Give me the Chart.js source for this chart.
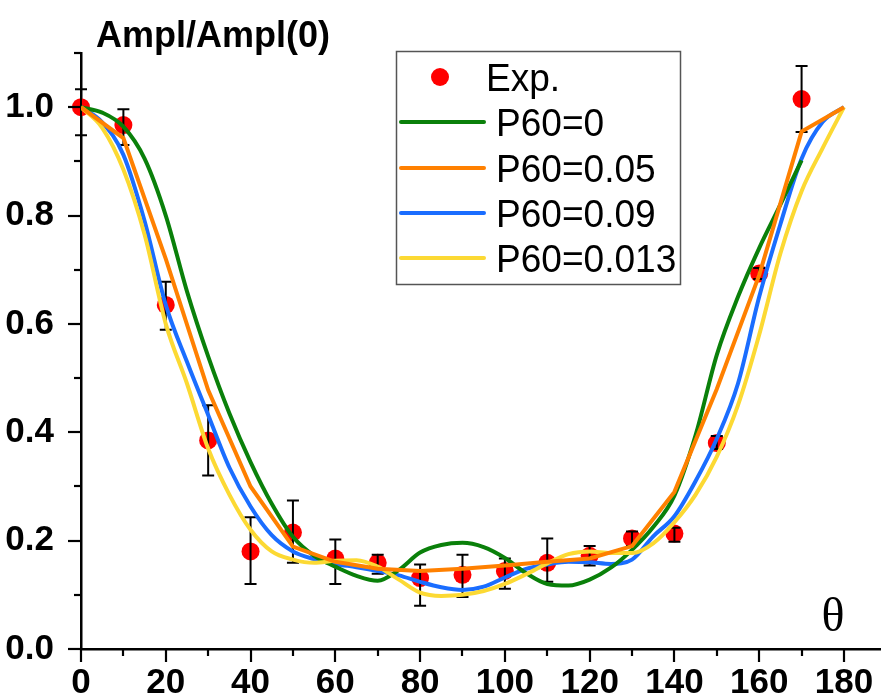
<!DOCTYPE html>
<html><head><meta charset="utf-8">
<script src="https://cdn.jsdelivr.net/npm/chart.js@4.4.1/dist/chart.umd.min.js"></script>
<style>html,body{margin:0;padding:0;background:#fff;overflow:hidden}</style>
</head><body>
<canvas id="c" width="881" height="699"></canvas>
<script>
// ---- data ----
const titleText = "Ampl/Ampl(0)";
const xAxisLabel = "θ";
const seriesLabels = ["Exp.", "P60=0", "P60=0.05", "P60=0.09", "P60=0.013"];

const expTheta   = [0,10,20,30,40,50,60,70,80,90,100,110,120,130,140,150,160,170];
const expValue   = [1.0,0.967,0.635,0.385,0.18,0.215,0.167,0.159,0.131,0.137,0.144,0.159,0.172,0.204,0.213,0.38,0.693,1.015];
const expErrLow  = [0.948,0.93,0.589,0.32,0.12,0.159,0.12,0.139,0.08,0.096,0.111,0.124,0.154,0.19,0.198,0.369,0.683,0.954];
const expErrHigh = [1.033,0.996,0.678,0.45,0.243,0.274,0.202,0.174,0.156,0.174,0.167,0.204,0.19,0.217,0.224,0.393,0.703,1.076];

const thetaFine = [0,5,10,15,20,25,30,35,40,45,50,55,60,65,70,75,80,85,90,95,100,105,110,115,120,125,130,135,140,145,150,155,160,165,170,175,180];
const thetaCoarse = [0,10,20,30,40,50,60,70,80,90,100,110,120,130,140,150,160,170,180];

const p60_0 = [1.0,0.99,0.964,0.905,0.80,0.66,0.54,0.435,0.345,0.268,0.207,0.172,0.152,0.135,0.126,0.146,0.178,0.192,0.196,0.188,0.168,0.14,0.12,0.117,0.128,0.15,0.183,0.225,0.283,0.395,0.543,0.65,0.74,0.82,0.902];
const p60_005 = [1.0,0.943,0.72,0.478,0.30,0.189,0.161,0.148,0.144,0.148,0.154,0.161,0.167,0.19,0.29,0.48,0.69,0.955,1.0];
const p60_009 = [1.0,0.972,0.912,0.79,0.635,0.53,0.432,0.335,0.263,0.21,0.18,0.166,0.157,0.151,0.144,0.136,0.124,0.114,0.109,0.115,0.132,0.148,0.156,0.161,0.16,0.157,0.165,0.208,0.245,0.31,0.388,0.49,0.65,0.784,0.905,0.973,1.0];
const p60_0013 = [1.0,0.962,0.885,0.765,0.60,0.49,0.37,0.285,0.22,0.18,0.165,0.159,0.163,0.164,0.152,0.128,0.104,0.098,0.1,0.107,0.12,0.138,0.158,0.175,0.18,0.177,0.177,0.195,0.234,0.285,0.355,0.45,0.58,0.73,0.845,0.925,1.0];

const xTickValues = [0,20,40,60,80,100,120,140,160,180];
const yTickValues = [0.0,0.2,0.4,0.6,0.8,1.0];

function pts(xs, ys){ return ys.map((v,i)=>({x:xs[i], y:v})); }

const colors = {exp:'#ff0000', g:'#0a800a', o:'#ff8000', b:'#1a6dff', y:'#fcd933'};

const decor = {
  id:'decor',
  afterDatasetDraw(chart, args){
    if (args.index !== 0) return;
    const ctx = chart.ctx, xs = chart.scales.x, ys = chart.scales.y;
    ctx.save();
    ctx.strokeStyle = '#000'; ctx.lineWidth = 2;
    expTheta.forEach((t,i)=>{
      const px = xs.getPixelForValue(t);
      const y1 = ys.getPixelForValue(expErrLow[i]), y2 = ys.getPixelForValue(expErrHigh[i]);
      ctx.beginPath();
      ctx.moveTo(px,y1); ctx.lineTo(px,y2);
      ctx.moveTo(px-6,y1); ctx.lineTo(px+6,y1);
      ctx.moveTo(px-6,y2); ctx.lineTo(px+6,y2);
      ctx.stroke();
    });
    ctx.restore();
  },
  afterDraw(chart){
    const ctx = chart.ctx, xs = chart.scales.x, ys = chart.scales.y, a = chart.chartArea;
    ctx.save();
    // tick marks
    ctx.strokeStyle = '#000'; ctx.lineWidth = 2.2;
    for (let v=0; v<=180; v+=10){
      const px = Math.round(xs.getPixelForValue(v));
      const len = (v%20===0)?13:7;
      ctx.beginPath(); ctx.moveTo(px, a.bottom); ctx.lineTo(px, a.bottom+len); ctx.stroke();
    }
    for (let k=0; k<=11; k++){
      const py = Math.round(ys.getPixelForValue(k/10));
      const len = (k%2===0)?13:7;
      ctx.beginPath(); ctx.moveTo(a.left, py); ctx.lineTo(a.left-len, py); ctx.stroke();
    }
    // title
    ctx.fillStyle = '#000';
    ctx.textBaseline = 'alphabetic'; ctx.textAlign = 'left';
    ctx.font = 'bold 36px "Liberation Sans", Arial, sans-serif';
    ctx.fillText(titleText, 96, 47);
    // theta label
    ctx.font = '48px "Liberation Serif", "Times New Roman", serif';
    ctx.textAlign = 'center';
    ctx.fillText(xAxisLabel, 833, 631);
    // legend
    ctx.fillStyle = '#fff';
    ctx.fillRect(396, 51, 285, 234);
    ctx.strokeStyle = '#555'; ctx.lineWidth = 1.5;
    ctx.strokeRect(396.5, 51.5, 284, 233);
    const rows = [77, 122, 168, 213, 258];
    chart.data.datasets.forEach((ds, i)=>{
      const cy = rows[i];
      if (i===0){
        ctx.fillStyle = ds.backgroundColor;
        ctx.beginPath(); ctx.arc(440, cy, 9, 0, Math.PI*2); ctx.fill();
      } else {
        ctx.strokeStyle = ds.borderColor; ctx.lineWidth = 4; ctx.lineCap='round';
        ctx.beginPath(); ctx.moveTo(401, cy); ctx.lineTo(484, cy); ctx.stroke();
      }
      ctx.fillStyle = '#000';
      ctx.font = '39px "Liberation Sans", Arial, sans-serif';
      ctx.textAlign = 'left'; ctx.textBaseline = 'alphabetic';
      ctx.save();
      ctx.translate(i===0?486:496, cy+14);
      ctx.scale(0.95, 1);
      ctx.fillText(ds.label, 0, 0);
      ctx.restore();
    });
    ctx.restore();
  }
};

const lineCommon = {showLine:true, pointRadius:0, pointHoverRadius:0, borderWidth:4, fill:false, cubicInterpolationMode:'monotone'};

new Chart(document.getElementById('c'), {
  type:'scatter',
  data:{
    datasets:[
      {label:seriesLabels[0], data:pts(expTheta, expValue), showLine:false, pointRadius:9, pointHoverRadius:9,
       backgroundColor:colors.exp, borderColor:colors.exp, borderWidth:0, order:10, clip:false},
      Object.assign({label:seriesLabels[1], data:pts(thetaFine, p60_0), borderColor:colors.g, backgroundColor:colors.g, order:3}, lineCommon),
      Object.assign({label:seriesLabels[2], data:pts(thetaCoarse, p60_005), borderColor:colors.o, backgroundColor:colors.o, order:1}, lineCommon, {cubicInterpolationMode:'default', tension:0}),
      Object.assign({label:seriesLabels[3], data:pts(thetaFine, p60_009), borderColor:colors.b, backgroundColor:colors.b, order:4}, lineCommon),
      Object.assign({label:seriesLabels[4], data:pts(thetaFine, p60_0013), borderColor:colors.y, backgroundColor:colors.y, order:2}, lineCommon)
    ]
  },
  options:{
    responsive:false, animation:false, devicePixelRatio:1,
    layout:{autoPadding:false, padding:{top:53, right:1, left:0, bottom:0}},
    plugins:{legend:{display:false}, tooltip:{enabled:false}, title:{display:false}},
    scales:{
      x:{type:'linear', min:0, max:188.5,
         afterFit:(s)=>{s.height = 50; s.paddingLeft = 0; s.paddingRight = 0;},
         afterBuildTicks:(s)=>{s.ticks = xTickValues.map(v=>({value:v}));},
         ticks:{includeBounds:false, padding:5, color:'#000', maxRotation:0, autoSkip:false,
                font:{family:'"Liberation Sans", Arial, sans-serif', size:35, weight:'bold'},
                callback:(v)=>String(v)},
         grid:{display:false},
         border:{display:true, color:'#000', width:2.5}},
      y:{type:'linear', min:0, max:1.1,
         afterFit:(s)=>{s.width = 81; s.paddingTop = 0; s.paddingBottom = 0;},
         afterBuildTicks:(s)=>{s.ticks = yTickValues.map(v=>({value:v}));},
         ticks:{includeBounds:false, padding:19, color:'#000', autoSkip:false,
                font:{family:'"Liberation Sans", Arial, sans-serif', size:35, weight:'bold'},
                callback:(v)=>Number(v).toFixed(1)},
         grid:{display:false},
         border:{display:true, color:'#000', width:2.5}}
    }
  },
  plugins:[decor]
});
</script>
</body></html>
